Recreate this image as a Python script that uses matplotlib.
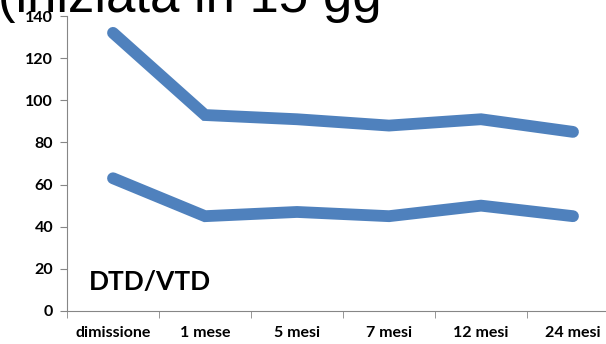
import matplotlib
matplotlib.use("Agg")
import matplotlib.pyplot as plt
import numpy as np

# dati
categorie = ["dimissione", "1 mese", "5 mesi", "7 mesi", "12 mesi", "24 mesi"]
serie_alta = [132, 93, 91, 88, 91, 85]
serie_bassa = [63, 45, 47, 45, 50, 45]
y_ticks = [0, 20, 40, 60, 80, 100, 120, 140]

blu = "#4F81BD"
grigio = "#868686"

fig = plt.figure(figsize=(6.06, 3.44), dpi=100)
ax = fig.add_axes([67 / 606, 1 - 311 / 344, 552 / 606, 295 / 344])

x = np.arange(len(categorie))
ax.plot(x, serie_alta, color=blu, linewidth=8.5, solid_capstyle="round",
        solid_joinstyle="miter")
ax.plot(x, serie_bassa, color=blu, linewidth=8.5, solid_capstyle="round",
        solid_joinstyle="miter")

ax.set_xlim(-0.5, len(categorie) - 0.5)
ax.set_ylim(0, 140)

# assi
for lato in ["top", "right"]:
    ax.spines[lato].set_visible(False)
ax.spines["left"].set_color(grigio)
ax.spines["bottom"].set_color(grigio)

ax.set_yticks(y_ticks)
ax.set_yticklabels([str(v) for v in y_ticks], fontsize=11.5, fontweight="bold",
                   family="Lato")
ax.tick_params(axis="y", length=5, color=grigio, pad=5)

ax.set_xticks(x)
ax.set_xticklabels(categorie, fontsize=11.5, fontweight="bold", family="Lato")
ax.tick_params(axis="x", which="major", length=0, pad=11)
ax.set_xticks(np.arange(-0.5, len(categorie)), minor=True)
ax.tick_params(axis="x", which="minor", length=5, color=grigio, direction="out")

ax.text(0.04, 0.07, "DTD/VTD", transform=ax.transAxes, fontsize=19,
        fontweight="bold", family="Lato", va="baseline", ha="left")

# titolo tagliato in alto
fig.text(-0.004, 1 - 12 / 344, "(iniziata in 15 gg", fontsize=38,
         family="Liberation Sans", va="baseline", ha="left")

fig.savefig("out.png", dpi=100)
